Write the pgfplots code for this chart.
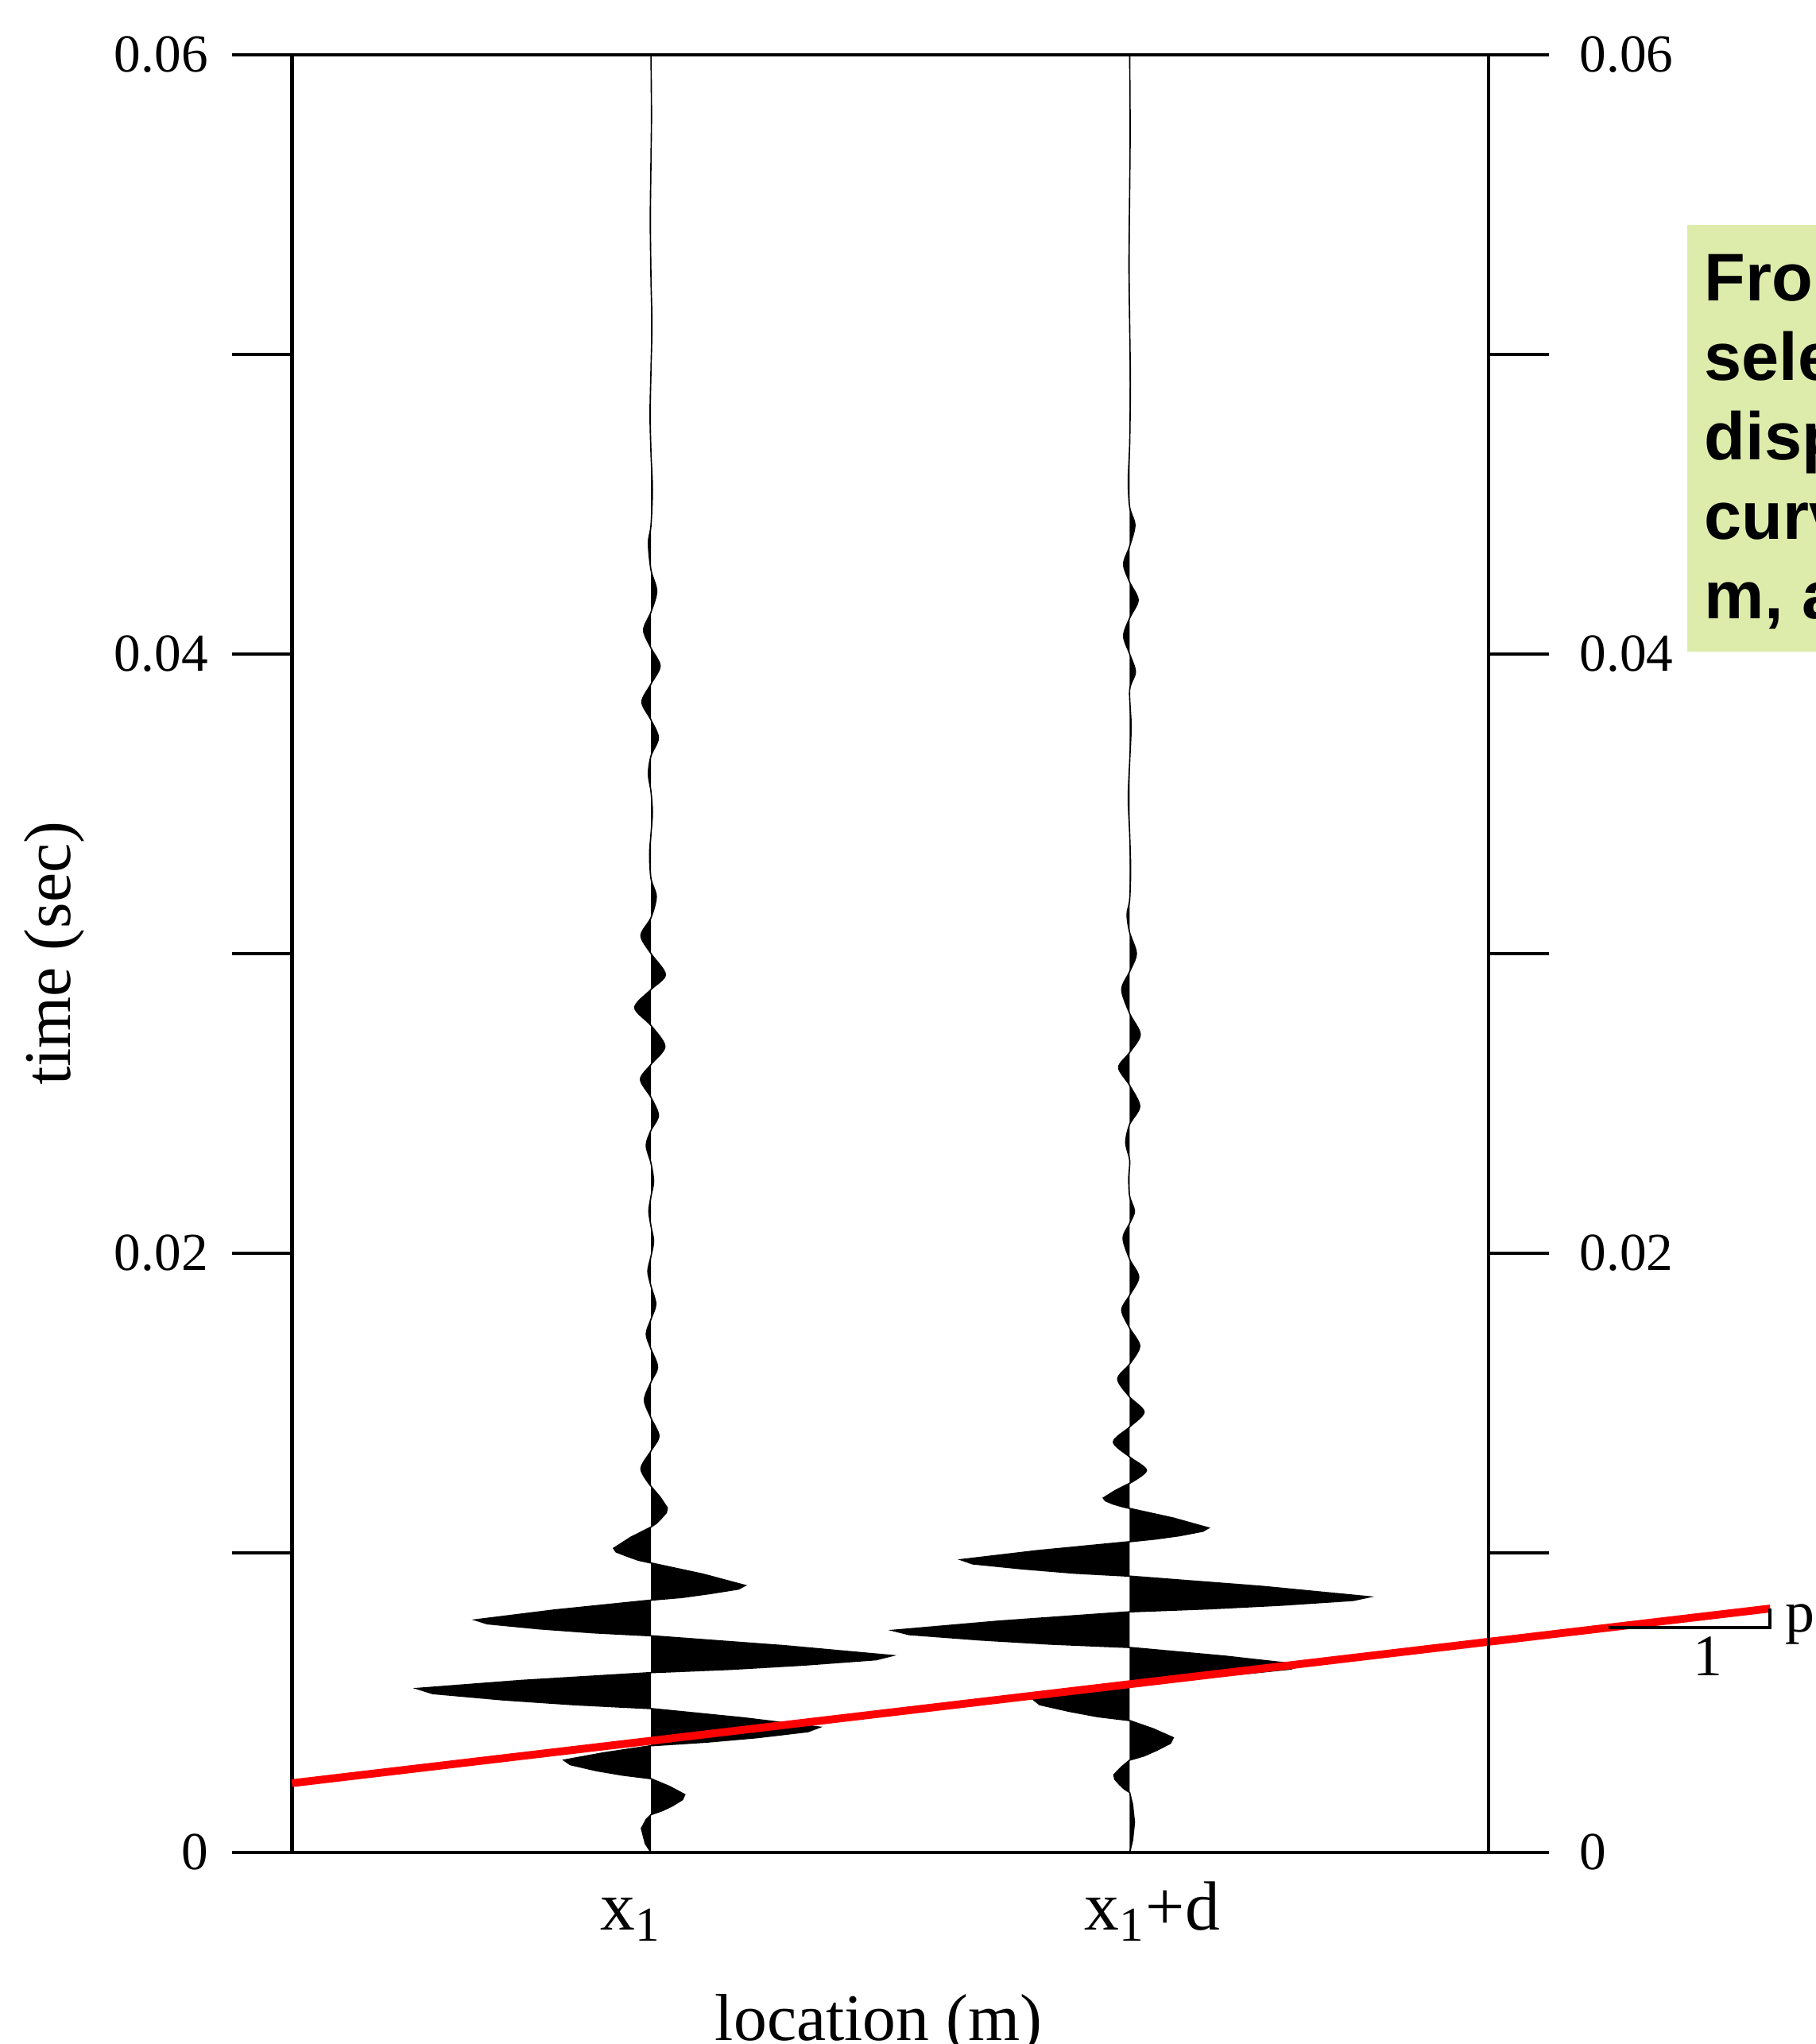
\documentclass[border=0pt]{standalone}
\usepackage{fontspec}
\setmainfont{Liberation Serif}
\newfontfamily\boxfont{Liberation Sans}
\usepackage{pgfplots}
\pgfplotsset{compat=1.18}
\definecolor{boxgreen}{RGB}{221,235,171}

\pgfplotsset{
  wigaxis/.style={
    scale only axis, width=275.4pt, height=413.7pt,
    xmin=-0.75, xmax=1.75, ymin=0, ymax=0.06,
    tick align=outside,
    scaled y ticks=false,
    ytick={0,0.02,0.04,0.06}, yticklabels={0,0.02,0.04,0.06},
    minor ytick={0.01,0.03,0.05},
    major tick length=13.8pt, minor tick length=13.8pt,
    every tick/.style={black, line width=0.8pt},
    axis line style={line width=0.8pt},
    y tick label style={font=\fontsize{12.3}{14}\selectfont},
  }
}

\begin{document}
\begin{tikzpicture}
\begin{axis}[
  wigaxis,
  clip=false,
  ytick pos=left,
  y tick label style={xshift=-2pt},
  xtick={-0.042,1.047},
  xticklabels={x\textsubscript{1}, x\textsubscript{1}+d},
  xtick style={draw=none},
  x tick label style={anchor=base, yshift=-4pt, font=\fontsize{16}{18}\selectfont},
  xlabel={location (m)},
  ylabel={time (sec)},
  every axis x label/.style={at={(axis description cs:0.4902,-0.1044)}, anchor=base, font=\fontsize{15.3}{18}\selectfont},
  every axis y label/.style={at={(axis description cs:-0.1983,0.5)}, anchor=center, rotate=90, font=\fontsize{15.3}{18}\selectfont},
]

% trace at x1: main wavelet
\addplot[fill=black, draw=black, line width=0.3pt] coordinates {
(0,0) (-0.012,0.0003) (-0.020,0.0008) (-0.010,0.0011) (0,0.00126)
(0.0233,0.00139) (0.0445,0.00155) (0.0657,0.00176) (0.0706,0.00193) (0.0388,0.00220) (0,0.00246)
(-0.060,0.00258) (-0.115,0.00273) (-0.169,0.00293) (-0.182,0.00308) (-0.100,0.00332) (0,0.00356)
(0.116,0.00368) (0.222,0.00383) (0.328,0.00403) (0.353,0.00418) (0.194,0.00449) (0,0.00480)
(-0.162,0.00493) (-0.309,0.00509) (-0.456,0.00530) (-0.490,0.00547) (-0.270,0.00574) (0,0.00600)
(0.167,0.00611) (0.318,0.00625) (0.470,0.00643) (0.505,0.00657) (0.278,0.00690) (0,0.00723)
(-0.121,0.00733) (-0.232,0.00746) (-0.342,0.00763) (-0.368,0.00776) (-0.202,0.00809) (0,0.00842)
(0.065,0.00851) (0.124,0.00864) (0.183,0.00879) (0.197,0.00891) (0.108,0.00929) (0,0.00966)
(-0.026,0.00975) (-0.049,0.00988) (-0.073,0.01003) (-0.078,0.01015) (-0.043,0.01051) (0,0.01086)
(0.011,0.01098) (0.021,0.01114) (0.032,0.01134) (0.034,0.01150) (0.019,0.01186) (0,0.01222)
};
% trace at x1: coda
\addplot[smooth, fill=black, draw=black, line width=0.3pt] coordinates {
(0,0.01222) (-0.021,0.0128) (0,0.0134) (0.0166,0.0139) (0,0.0145) (-0.0138,0.0151) (0,0.0157)
(0.0138,0.0162) (0,0.0168) (-0.010,0.0173) (0,0.0178) (0.010,0.0183) (0,0.0189) (-0.0066,0.0194)
(0,0.0199) (0.0055,0.0204) (0,0.0209) (-0.0045,0.0214) (0,0.0219) (0.0055,0.0224) (0,0.0230)
(-0.010,0.0236) (0,0.0241) (0.0155,0.0246) (0,0.0252) (-0.022,0.0258) (0,0.0263) (0.029,0.0269)
(0,0.0276) (-0.034,0.0282) (0,0.0288) (0.030,0.0293) (0,0.0300) (-0.021,0.0306) (0,0.0312)
(0.011,0.0319) (0,0.0325) (-0.003,0.0333) (0,0.0340) (0.003,0.0347) (0,0.0354) (-0.0055,0.0360)
(0,0.0366) (0.0155,0.0372) (0,0.0378) (-0.019,0.0384) (0,0.0390) (0.019,0.0396) (0,0.0402)
(-0.0155,0.0408) (0,0.0414) (0.012,0.0421) (0,0.0428) (-0.0055,0.0437) (0,0.0443) (0.003,0.0455)
(0,0.0467) (-0.002,0.0480) (0,0.0495) (0.002,0.0510) (0,0.0525) (-0.0015,0.0545) (0,0.0565)
(0.001,0.0580) (0,0.0600)
};

% trace at x1+d: main wavelet
\addplot[fill=black, draw=black, line width=0.3pt] coordinates {
(1,0) (1.006,0.0004) (1.010,0.0010) (1.006,0.0016) (1,0.0020)
(0.989,0.00211) (0.979,0.00226) (0.969,0.00244) (0.967,0.00259) (0.982,0.00284) (1,0.00308)
(1.030,0.00322) (1.057,0.00341) (1.085,0.00364) (1.091,0.00383) (1.050,0.00412) (1,0.00440)
(0.933,0.00453) (0.873,0.00471) (0.812,0.00493) (0.798,0.00511) (0.889,0.00540) (1,0.00569)
(1.119,0.00580) (1.228,0.00594) (1.337,0.00612) (1.362,0.00626) (1.199,0.00655) (1,0.00684)
(0.836,0.00695) (0.688,0.00709) (0.539,0.00727) (0.504,0.00741) (0.727,0.00772) (1,0.00803)
(1.166,0.00813) (1.316,0.00825) (1.467,0.00841) (1.502,0.00853) (1.276,0.00888) (1,0.00922)
(0.884,0.00932) (0.778,0.00946) (0.672,0.00963) (0.647,0.00977) (0.806,0.01007) (1,0.01037)
(1.054,0.01046) (1.104,0.01057) (1.153,0.01072) (1.165,0.01083) (1.091,0.01116) (1,0.01148)
(0.982,0.01155) (0.965,0.01163) (0.949,0.01174) (0.945,0.01183) (0.970,0.01208) (1,0.01232)
};
% trace at x1+d: coda
\addplot[smooth, fill=black, draw=black, line width=0.3pt] coordinates {
(1,0.01232) (1.035,0.01275) (1,0.0132) (0.966,0.0137) (1,0.0142) (1.030,0.0147) (1,0.0152)
(0.975,0.0158) (1,0.0163) (1.021,0.0169) (1,0.0175) (0.9834,0.0181) (1,0.0186) (1.019,0.0192)
(1,0.0198) (0.9862,0.0205) (1,0.0210) (1.010,0.0214) (1,0.0219) (0.998,0.0225) (1,0.0231)
(0.9917,0.0237) (1,0.0243) (1.021,0.0249) (1,0.0256) (0.977,0.0262) (1,0.0267) (1.022,0.0273)
(1,0.0280) (0.9834,0.0288) (1,0.0294) (1.014,0.0300) (1,0.0307) (0.9945,0.0313) (1,0.0318)
(1.002,0.0328) (1,0.0340) (0.997,0.0352) (1,0.0364) (1.003,0.0376) (1,0.0388) (1.012,0.0394)
(1,0.0400) (0.9873,0.0406) (1,0.0412) (1.0177,0.0418) (1,0.0424) (0.9873,0.0430) (1,0.0436)
(1.011,0.0443) (1,0.0449) (0.997,0.0458) (1,0.0470) (1.0015,0.0490) (1,0.0510) (0.9985,0.0530)
(1,0.0555) (1.001,0.0575) (1,0.0600)
};

% picked line and slope triangle
\addplot[red, line width=1.8pt] coordinates {(-0.75,0.00231) (2.338,0.00814)};
\addplot[black, line width=0.8pt] coordinates {(2.0,0.00750) (2.338,0.00750) (2.338,0.00814)};
\node[anchor=north, inner sep=0, yshift=-2pt, font=\fontsize{13.5}{16}\selectfont] at (axis cs:2.208,0.00750) {1};

\coordinate (pLab) at (axis cs:2.338,0.00735);
\coordinate (boxSW) at (axis cs:2.164,0.04008);
\coordinate (boxNE) at (axis cs:3.2,0.05431);
\coordinate (t1) at (axis cs:2.199,0.05178);
\coordinate (t2) at (axis cs:2.199,0.04913);
\coordinate (t3) at (axis cs:2.199,0.04648);
\coordinate (t4) at (axis cs:2.199,0.04382);
\coordinate (t5) at (axis cs:2.199,0.04117);
\coordinate (bbSW) at (rel axis cs:-0.2440,-0.1066);
\coordinate (bbNE) at (rel axis cs:1.2734,1.0305);
\end{axis}

\begin{axis}[
  wigaxis,
  hide x axis,
  xtick=\empty,
  axis y line*=right,
  yticklabel pos=right,
  y tick label style={xshift=3.6pt},
]
\end{axis}

\begin{scope}
\clip (bbSW) rectangle (bbNE);
\fill[boxgreen] (boxSW) rectangle (boxNE);
\begin{scope}[every node/.style={anchor=base west, inner sep=0, font=\boxfont\bfseries\fontsize{15.5}{18}\selectfont}]
\node at (t1) {From the};
\node at (t2) {selected};
\node at (t3) {dispersion};
\node at (t4) {curve, at};
\node at (t5) {m, and};
\end{scope}
\node[anchor=base west, inner sep=0, xshift=3.3pt, font=\fontsize{13.5}{16}\selectfont] at (pLab) {p};
\end{scope}

\pgfresetboundingbox
\useasboundingbox (bbSW) rectangle (bbNE);
\end{tikzpicture}
\end{document}
